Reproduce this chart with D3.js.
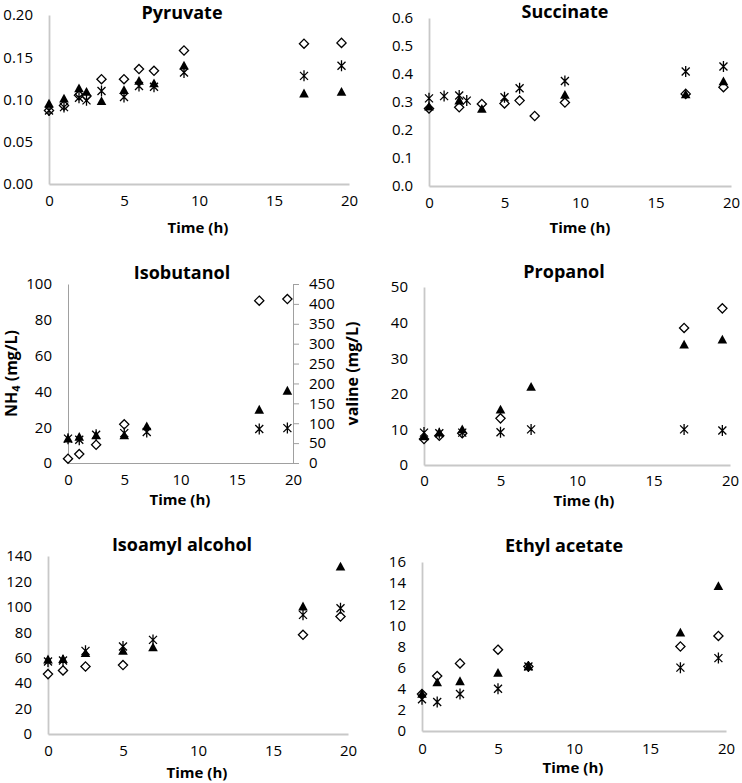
<!DOCTYPE html>
<html><head><meta charset="utf-8">
<script src="https://cdn.jsdelivr.net/npm/d3@7"></script>
<style>
body{margin:0;background:#fff;}
svg text{font-family:"Open Sans","Liberation Sans",sans-serif;fill:#000;}
</style></head>
<body><svg id="c" width="742" height="783"></svg>
<script>
// ---------- DATA ----------
const pyrT      = [0,1,2,2.5,3.5,5,6,7,9,17,19.5];
const pyrDiam   = [0.087,0.093,0.105,0.104,0.124,0.124,0.136,0.134,0.158,0.166,0.167];
const pyrTri    = [0.095,0.101,0.113,0.109,0.098,0.111,0.122,0.119,0.140,0.107,0.109];
const pyrStar   = [0.087,0.091,0.102,0.099,0.110,0.103,0.116,0.115,0.132,0.128,0.140];

const sucDiamT  = [0,2,3.5,5,6,7,9,17,19.5];
const sucDiam   = [0.277,0.281,0.293,0.295,0.305,0.250,0.298,0.329,0.353];
const sucTriT   = [0,2,3.5,9,17,19.5];
const sucTri    = [0.283,0.305,0.275,0.325,0.327,0.373];
const sucStarT  = [0,1,2,2.5,5,6,9,17,19.5];
const sucStar   = [0.313,0.321,0.323,0.305,0.317,0.349,0.375,0.409,0.427];

const isoT      = [0,1,2.5,5,7,17,19.5];
const isoDiamT  = [0,1,2.5,5,17,19.5];
const isoDiam   = [2.4,5.0,10.2,21.6,90.7,91.6];
const isoTri    = [13.6,14.5,15.4,15.4,20.4,29.7,40.3];
const isoStar   = [13.6,13.0,15.8,16.7,17.3,19.0,19.5];

const proDiamT  = [0,1,2.5,5,17,19.5];
const proDiam   = [7.3,8.2,8.9,13.1,38.5,44.0];
const proT      = [0,1,2.5,5,7,17,19.5];
const proTri    = [8.0,9.1,10.0,15.5,21.9,33.8,35.2];
const proStar   = [9.1,8.9,9.1,9.2,10.0,10.0,9.7];

const amyDiamT  = [0,1,2.5,5,17,19.5];
const amyDiam   = [47.1,50.0,53.1,54.2,78.0,92.4];
const amyT      = [0,1,2.5,5,7,17,19.5];
const amyTri    = [58.5,58.9,63.6,65.4,68.0,100.2,131.6];
const amyStar   = [57.0,57.8,65.4,68.8,74.0,93.7,98.9];

const ethT      = [0,1,2.5,5,7,17,19.5];
const ethDiam   = [3.5,5.2,6.4,7.7,6.1,8.0,9.0];
const ethTri    = [3.5,4.6,4.7,5.5,6.1,9.3,13.7];
const ethStar   = [3.0,2.75,3.5,4.0,6.1,6.0,6.9];

const xTicks = [0,5,10,15,20];
const valineTicks = [0,50,100,150,200,250,300,350,400,450];

// ---------- PANELS (layout) ----------
const panels = [
  {title:"Pyruvate", x0:49, x1:349, yTop:15, yBot:184, ymax:0.20, yticks:[0,0.05,0.10,0.15,0.20], fmt:d3.format(".2f"),
   diam:[pyrT,pyrDiam], tri:[pyrT,pyrTri], star:[pyrT,pyrStar], tx:182, ty:14, xly:202, xlx:198, xlabY:229, axisCol:"#c8c8c8", axisW:1.8},
  {title:"Succinate", x0:429, x1:731, yTop:18, yBot:186, ymax:0.6, yticks:[0,0.1,0.2,0.3,0.4,0.5,0.6], fmt:d3.format(".1f"),
   diam:[sucDiamT,sucDiam], tri:[sucTriT,sucTri], star:[sucStarT,sucStar], tx:565, ty:13, xly:204, xlx:580, xlabY:229, axisCol:"#c8c8c8", axisW:1.8},
  {title:"Isobutanol", x0:68, x1:293, yTop:284, yBot:463, ymax:100, yticks:[0,20,40,60,80,100], fmt:d3.format("d"),
   diam:[isoDiamT,isoDiam], tri:[isoT,isoTri], star:[isoT,isoStar], tx:182, ty:274, xly:481, xlx:180, xlabY:501, axisCol:"#a0a0a0", axisW:1,
   right:{max:450, ticks:valineTicks, label:"valine (mg/L)"}, leftLabel:true},
  {title:"Propanol", x0:424, x1:730, yTop:287, yBot:465, ymax:50, yticks:[0,10,20,30,40,50], fmt:d3.format("d"),
   diam:[proDiamT,proDiam], tri:[proT,proTri], star:[proT,proStar], tx:564, ty:273, xly:482, xlx:584, xlabY:502, axisCol:"#c8c8c8", axisW:1.8},
  {title:"Isoamyl alcohol", x0:48, x1:348, yTop:556, yBot:734, ymax:140, yticks:[0,20,40,60,80,100,120,140], fmt:d3.format("d"),
   diam:[amyDiamT,amyDiam], tri:[amyT,amyTri], star:[amyT,amyStar], tx:182, ty:546, xly:752, xlx:197, xlabY:774, axisCol:"#c8c8c8", axisW:1.8},
  {title:"Ethyl acetate", x0:422, x1:726, yTop:562, yBot:731, ymax:16, yticks:[0,2,4,6,8,10,12,14,16], fmt:d3.format("d"),
   diam:[ethT,ethDiam], tri:[ethT,ethTri], star:[ethT,ethStar], tx:564, ty:547, xly:750, xlx:573, xlabY:769, axisCol:"#c8c8c8", axisW:1.8}
];

const svg = d3.select("#c");
const triPath = "M0,-5L4.8,3.8L-4.8,3.8Z";
const diaPath = "M0,-4.6L4.6,0L0,4.6L-4.6,0Z";
const starPath = "M0,-5.5L0,5.5M-4,-4L4,4M-4,4L4,-4";

panels.forEach(p => {
  const g = svg.append("g");
  const x = d3.scaleLinear().domain([0,20]).range([p.x0,p.x1]);
  const y = d3.scaleLinear().domain([0,p.ymax]).range([p.yBot,p.yTop]);

  // axes
  const ya = g.append("g").attr("transform",`translate(${p.x0},0)`)
    .call(d3.axisLeft(y).tickValues(p.yticks).tickFormat(p.fmt).tickSize(0).tickPadding(16));
  ya.select(".domain").attr("stroke",p.axisCol).attr("stroke-width",p.axisW);
  ya.selectAll("text").attr("font-size","15px").attr("fill","#111");

  const xa = g.append("g").attr("transform",`translate(0,${p.yBot})`)
    .call(d3.axisBottom(x).tickValues(xTicks).tickSize(0).tickPadding(0));
  xa.select(".domain").attr("stroke",p.axisCol).attr("stroke-width",p.axisW);
  xa.selectAll("text").attr("font-size","15px").attr("fill","#111").attr("dy",null)
    .attr("y", p.xly - p.yBot).attr("dominant-baseline","middle");

  if (p.right) {
    const yr = d3.scaleLinear().domain([0,p.right.max]).range([p.yBot,p.yTop]);
    const ra = g.append("g").attr("transform",`translate(${p.x1},0)`)
      .call(d3.axisRight(yr).tickValues(p.right.ticks).tickSize(6).tickPadding(10));
    ra.select(".domain").attr("stroke",p.axisCol);
    ra.selectAll("line").attr("stroke",p.axisCol);
    ra.selectAll("text").attr("font-size","15px").attr("fill","#111");
    g.append("text").attr("transform",`translate(354,${(p.yTop+p.yBot)/2}) rotate(-90)`)
      .attr("text-anchor","middle").attr("font-size","16px").attr("font-weight","bold")
      .attr("dominant-baseline","middle").text(p.right.label);
  }
  if (p.leftLabel) {
    const t = g.append("text").attr("transform",`translate(13,${(p.yTop+p.yBot)/2}) rotate(-90)`)
      .attr("text-anchor","middle").attr("font-size","16px").attr("font-weight","bold")
      .attr("dominant-baseline","middle");
    t.append("tspan").text("NH");
    t.append("tspan").text("4").attr("font-size","11px").attr("dy","4");
    t.append("tspan").text(" (mg/L)").attr("dy","-4");
  }

  // title
  g.append("text").attr("x",p.tx).attr("y",p.ty).attr("text-anchor","middle")
    .attr("font-size","18px").attr("font-weight","bold").attr("dominant-baseline","middle").text(p.title);
  // x label
  g.append("text").attr("x",p.xlx).attr("y",p.xlabY).attr("text-anchor","middle")
    .attr("font-size","15px").attr("font-weight","bold").attr("dominant-baseline","middle").text("Time (h)");

  // markers
  const pts = (arr) => arr[0].map((t,i)=>({t, v:arr[1][i]}));
  g.append("g").selectAll("path").data(pts(p.diam)).join("path")
    .attr("transform",d=>`translate(${x(d.t)},${y(d.v)})`).attr("d",diaPath)
    .attr("fill","#fff").attr("stroke","#000").attr("stroke-width",1.3);
  g.append("g").selectAll("path").data(pts(p.star)).join("path")
    .attr("transform",d=>`translate(${x(d.t)},${y(d.v)})`).attr("d",starPath)
    .attr("fill","none").attr("stroke","#000").attr("stroke-width",1.3);
  g.append("g").selectAll("path").data(pts(p.tri)).join("path")
    .attr("transform",d=>`translate(${x(d.t)},${y(d.v)})`).attr("d",triPath)
    .attr("fill","#000");
});
</script></body></html>
